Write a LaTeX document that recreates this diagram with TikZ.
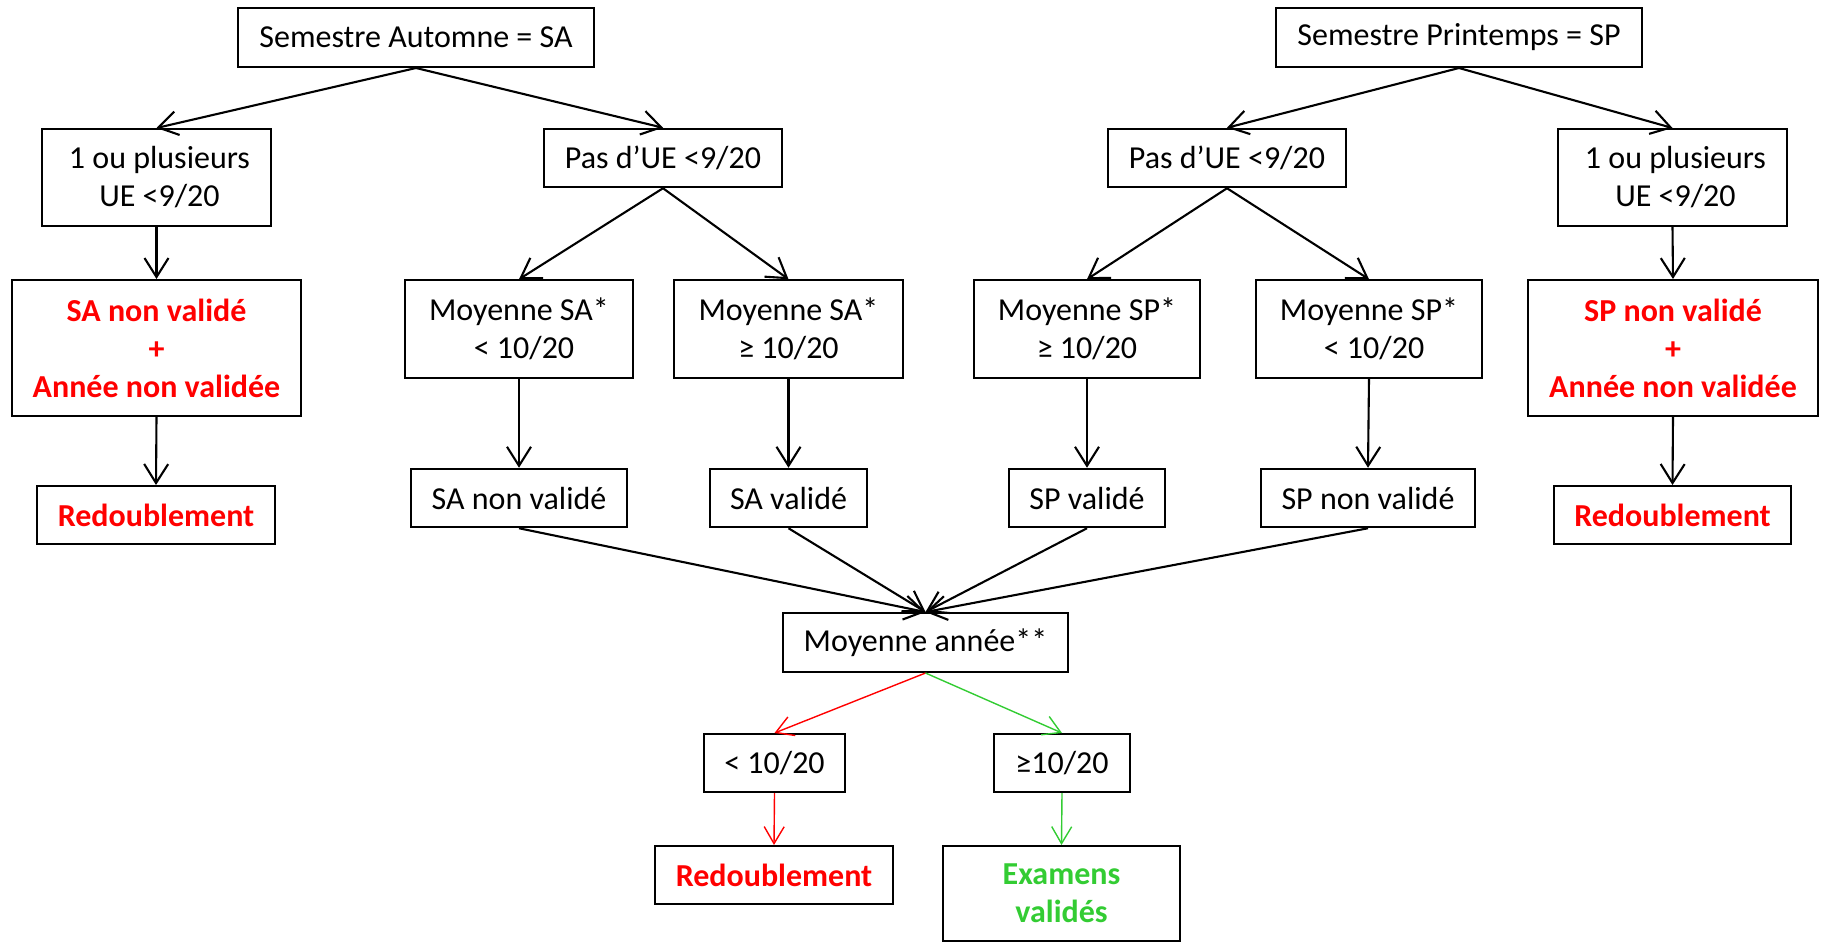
\documentclass[tikz,border=0pt]{standalone}
\usepackage{fontspec}
\setmainfont{Carlito}
\usetikzlibrary{arrows.meta}
\definecolor{myred}{RGB}{255,0,0}
\definecolor{mygreen}{RGB}{51,204,51}
\tikzset{
  box/.style={draw=black, line width=2pt, inner sep=0pt, align=center,
    font=\fontsize{32}{38}\selectfont},
  redtxt/.style={text=myred, font=\fontsize{32}{38}\selectfont\bfseries},
  greentxt/.style={text=mygreen, font=\fontsize{32}{38}\selectfont\bfseries},
  arr/.style={line width=2.1pt, -{Straight Barb[length=19pt,width=24pt,line width=2.1pt]}},
  rarr/.style={draw=myred, line width=1.4pt, -{Straight Barb[length=17pt,width=20pt,line width=1.4pt]}},
  garr/.style={draw=mygreen, line width=1.4pt, -{Straight Barb[length=17pt,width=20pt,line width=1.4pt]}},
}
\begin{document}
\begin{tikzpicture}[x=1pt,y=-1pt]
\useasboundingbox (0,0) rectangle (1821,943);
% top row
\node[box, minimum width=356pt, minimum height=59pt] (SA) at (416,37.5) {Semestre Automne = SA};
\node[box, minimum width=366pt, minimum height=59pt] (SP) at (1459,37.5) {Semestre Printemps = SP};
% second row
\node[box, minimum width=229pt, minimum height=97pt] (UL) at (156.5,177.5) {\hspace*{6pt}1 ou plusieurs\\\hspace*{6pt}UE <9/20};
\node[box, minimum width=238pt, minimum height=58.5pt] (PL) at (663,158) {Pas d’UE <9/20};
\node[box, minimum width=238pt, minimum height=58.5pt] (PR) at (1227,158) {Pas d’UE <9/20};
\node[box, minimum width=229pt, minimum height=97pt] (UR) at (1672.5,177.5) {\hspace*{6pt}1 ou plusieurs\\\hspace*{6pt}UE <9/20};
% third row
\node[box, redtxt, minimum width=289pt, minimum height=136pt] (NL) at (156.5,348) {SA non validé\\+\\Année non validée};
\node[box, minimum width=228pt, minimum height=97.5pt] (MA1) at (519,329) {Moyenne SA*\\\hspace*{10pt}< 10/20};
\node[box, minimum width=229pt, minimum height=97.5pt] (MA2) at (788.5,329) {Moyenne SA*\\≥ 10/20};
\node[box, minimum width=226pt, minimum height=97.5pt] (MP1) at (1087,329) {Moyenne SP*\\≥ 10/20};
\node[box, minimum width=226pt, minimum height=97.5pt] (MP2) at (1369,329) {Moyenne SP*\\\hspace*{10pt}< 10/20};
\node[box, redtxt, minimum width=290pt, minimum height=136pt] (NR) at (1673,348) {SP non validé\\+\\Année non validée};
% fourth row
\node[box, redtxt, minimum width=238pt, minimum height=58pt] (RL) at (156,515) {Redoublement};
\node[box, minimum width=215.5pt, minimum height=58.5pt] (SAN) at (519,498) {SA non validé};
\node[box, minimum width=157pt, minimum height=58.5pt] (SAV) at (788.5,498) {SA validé};
\node[box, minimum width=155.5pt, minimum height=58.5pt] (SPV) at (1087,498) {SP validé};
\node[box, minimum width=213.5pt, minimum height=58.5pt] (SPN) at (1368,498) {SP non validé};
\node[box, redtxt, minimum width=237pt, minimum height=58pt] (RR) at (1672.5,515) {Redoublement};
% bottom
\node[box, minimum width=285pt, minimum height=59pt] (MY) at (925.5,642.5) {Moyenne année**};
\node[box, minimum width=141pt, minimum height=58pt] (LT) at (774.5,763) {< 10/20};
\node[box, minimum width=136pt, minimum height=58pt] (GE) at (1062,763) {≥10/20};
\node[box, redtxt, minimum width=238pt, minimum height=58pt] (RB) at (774,875) {Redoublement};
\node[box, greentxt, minimum width=237pt, minimum height=95pt] (EX) at (1061.5,893.5) {Examens\\validés};
% connectors
\draw[arr] (SA.south) -- (UL.north);
\draw[arr] (SA.south) -- (PL.north);
\draw[arr] (SP.south) -- (PR.north);
\draw[arr] (SP.south) -- (UR.north);
\draw[arr] (UL.south) -- (NL.north);
\draw[arr] (NL.south) -- (RL.north);
\draw[arr] (UR.south) -- (NR.north);
\draw[arr] (NR.south) -- (RR.north);
\draw[arr] (PL.south) -- (MA1.north);
\draw[arr] (PL.south) -- (MA2.north);
\draw[arr] (PR.south) -- (MP1.north);
\draw[arr] (PR.south) -- (MP2.north);
\draw[arr] (MA1.south) -- (SAN.north);
\draw[arr] (MA2.south) -- (SAV.north);
\draw[arr] (MP1.south) -- (SPV.north);
\draw[arr] (MP2.south) -- (SPN.north);
\draw[arr] (SAN.south) -- (MY.north);
\draw[arr] (SAV.south) -- (MY.north);
\draw[arr] (SPV.south) -- (MY.north);
\draw[arr] (SPN.south) -- (MY.north);
\draw[rarr] (MY.south) -- (LT.north);
\draw[garr] (MY.south) -- (GE.north);
\draw[rarr] (LT.south) -- (RB.north);
\draw[garr] (GE.south) -- (EX.north);
\end{tikzpicture}
\end{document}
